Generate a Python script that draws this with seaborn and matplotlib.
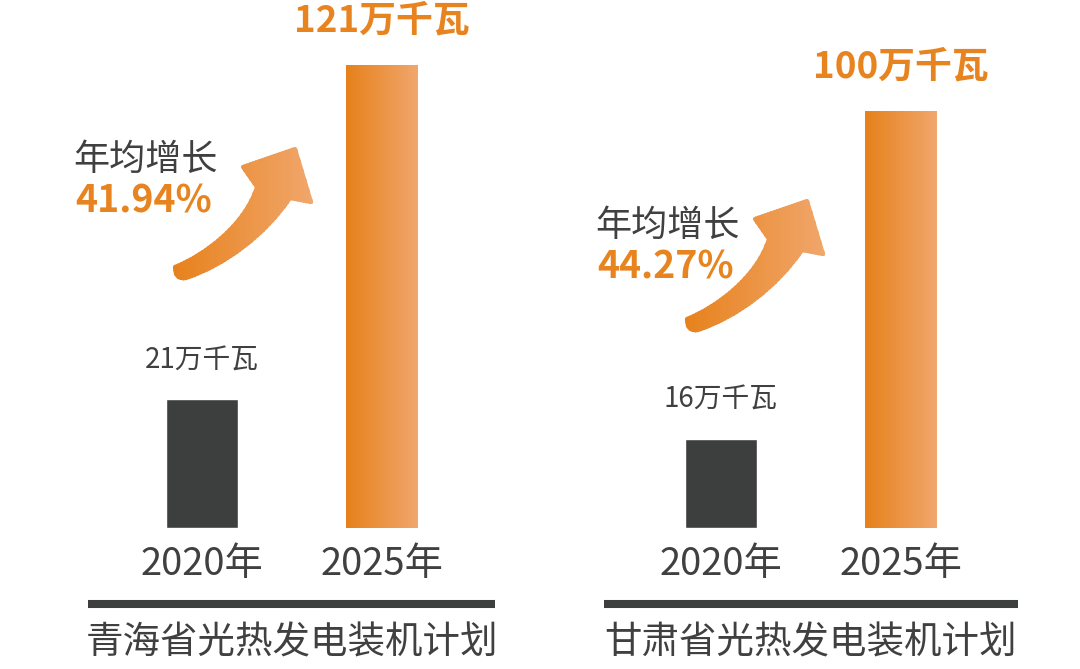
import numpy as np
import matplotlib
matplotlib.use("Agg")
import matplotlib.pyplot as plt
import seaborn as sns
from matplotlib.path import Path
from matplotlib.patches import PathPatch, Rectangle
from matplotlib.colors import LinearSegmentedColormap

sns.set_theme(style="white")
plt.rcParams['font.family'] = ['Noto Sans CJK SC', 'DejaVu Sans']

# --- data ---
years = ['2020年', '2025年']
qinghai = [21, 121]
gansu = [16, 100]
growth = ['41.94%', '44.27%']
titles = ['青海省光热发电装机计划', '甘肃省光热发电装机计划']
unit = '万千瓦'

DARK = '#3d3f3e'
TEXT = '#404040'
ORANGE = '#e8841f'
grad = LinearSegmentedColormap.from_list('g', ['#e6811b', '#f1a76d'])

W, H = 1080, 669
BASE = 528  # baseline of the bars, px from top
fig = plt.figure(figsize=(W / 100, H / 100), dpi=100)

overlay = fig.add_axes([0, 0, 1, 1], zorder=5)
overlay.axis('off')

# (left px, width px, values, scale exponent, px height of the tall bar)
panels = [(88, 407, qinghai, 0.73, 463),
          (604, 414, gansu, 0.84, 417)]

bar_axes = []
for (left, width, vals, p, top), title in zip(panels, titles):
    ax = fig.add_axes([left / W, (H - BASE) / H, width / W, BASE / H])
    sns.barplot(x=years, y=vals, hue=years, palette=[DARK, ORANGE],
                width=0.4, saturation=1, legend=False, ax=ax)
    # the infographic does not draw bars to a linear scale
    ax.set_yscale('function', functions=(lambda y, p=p: np.sign(y) * np.abs(y) ** p,
                                         lambda y, p=p: np.sign(y) * np.abs(y) ** (1 / p)))
    ax.set_ylim(0, vals[1] * (BASE / top) ** (1 / p))
    half = width / 180 / 2
    ax.set_xlim(0.5 - half, 0.5 + half)
    ax.set_yticks([])
    ax.set_xlabel('')
    ax.set_ylabel('')
    ax.tick_params(axis='x', length=0, pad=12, labelsize=27.5, labelcolor=TEXT)
    sns.despine(ax=ax, left=True, bottom=True)

    # value labels
    ax.annotate(f'{vals[0]}{unit}', (0, vals[0]), xytext=(0, 28), textcoords='offset points',
                ha='center', va='center', fontsize=20, color=TEXT)
    ax.annotate(f'{vals[1]}{unit}', (1, vals[1]), xytext=(0, 31.5), textcoords='offset points',
                ha='center', va='center', fontsize=26.5, color=ORANGE, weight='bold')

    # rule and panel title
    yl = (BASE - 604) / BASE
    ax.plot([0, 1], [yl, yl], transform=ax.transAxes, clip_on=False,
            color=DARK, lw=5.8, solid_capstyle='butt')
    ax.text(0.5, (BASE - 643) / BASE, title, transform=ax.transAxes,
            ha='center', va='center', fontsize=27, color=TEXT)
    bar_axes.append(ax)

overlay.set_xlim(0, W)
overlay.set_ylim(H, 0)

# gradient fill on the 2025 bars
for ax in bar_axes:
    patch = max(ax.patches, key=lambda r: r.get_height())
    bb = patch.get_bbox()
    disp = ax.transData.transform([[bb.x0, bb.y0], [bb.x1, bb.y1]])
    (x0, y0), (x1, y1) = overlay.transData.inverted().transform(disp)
    im = overlay.imshow(np.linspace(0, 1, 256)[None, :], cmap=grad,
                        extent=(x0, x1, y0, y1), aspect='auto')
    im.set_clip_path(patch)


def arrow_path(dx, dy):
    pts = [(175, 267), (205, 255), (245, 225), (257, 187),
           (243, 167), (295, 149), (311, 202), (290, 198),
           (265, 235), (225, 265), (186, 278),
           (175, 280), (175, 267), (175, 267)]
    codes = [Path.MOVETO, Path.CURVE4, Path.CURVE4, Path.CURVE4,
             Path.LINETO, Path.LINETO, Path.LINETO, Path.LINETO,
             Path.CURVE4, Path.CURVE4, Path.CURVE4,
             Path.CURVE3, Path.CURVE3, Path.CLOSEPOLY]
    return Path([(x + dx, y + dy) for x, y in pts], codes)


# curved growth arrows with a left-to-right gradient
for dx, dy in [(0, 0), (512, 52)]:
    path = arrow_path(dx, dy)
    xmin, xmax = 168 + dx, 318 + dx
    n = 50
    step = (xmax - xmin) / n
    for k in range(n):
        c = grad(k / (n - 1))
        pp = PathPatch(path, fc=c, ec=c, lw=3, joinstyle='round')
        overlay.add_patch(pp)
        pp.set_clip_path(Rectangle((xmin + k * step, 0), step + 0.6, H,
                                   transform=overlay.transData))

# growth text
for (tx, ty), g in zip([(73, 160), (595, 226)], growth):
    overlay.text(tx, ty, '年均增长', fontsize=26, color=TEXT, ha='left', va='center')
    overlay.text(tx + 2, ty + 41, g, fontsize=27, color=ORANGE, weight='bold',
                 ha='left', va='center')

overlay.set_xlim(0, W)
overlay.set_ylim(H, 0)

fig.savefig('out.png', dpi=100, facecolor='white')
